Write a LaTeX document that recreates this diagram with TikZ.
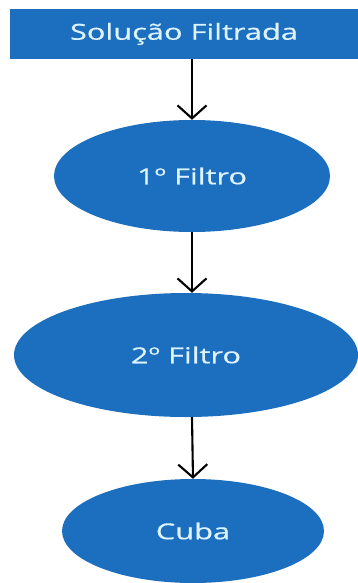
\documentclass[tikz,border=0pt]{standalone}
\usepackage{fontspec}
\usepackage{graphicx}
\setmainfont{Open Sans}
\newfontfamily\labfamily[FakeBold=0.5]{Open Sans}
\usetikzlibrary{shapes.geometric,arrows.meta}
\definecolor{boxblue}{HTML}{1C6FBE}
\definecolor{txt}{HTML}{DDF3FF}
\newcommand{\lab}[1]{\scalebox{1.4}[1]{\labfamily\fontsize{22}{24}\selectfont #1}}
\tikzset{
  flowbox/.style={fill=boxblue, draw=none, text=txt, inner sep=0pt},
  flowell/.style={ellipse, fill=boxblue, draw=none, text=txt, inner sep=0pt},
  flowarrow/.style={draw=black, line width=2.1pt, -{Straight Barb[length=13pt,width=29pt,line width=2.1pt]}}
}
\begin{document}
\begin{tikzpicture}[x=1pt,y=-1pt]
\clip (0,0) rectangle (358,583);
\fill[white] (0,0) rectangle (358,583);
\node[flowbox, minimum width=348pt, minimum height=50pt] (sol) at (184,34) {\lab{Solução Filtrada}};
\node[flowell, minimum width=276pt, minimum height=112pt] (f1) at (192,176) {\lab{1º Filtro}};
\node[flowell, minimum width=344pt, minimum height=124pt] (f2) at (186,355) {\lab{2º Filtro}};
\node[flowell, minimum width=262pt, minimum height=104pt] (cuba) at (193,531) {\lab{Cuba}};
\draw[flowarrow] (sol.south -| f1.north) -- (f1.north);
\draw[flowarrow] (f1.south) -- (f1.south |- f2.north);
\draw[flowarrow] (f1.south |- f2.south) -- (cuba.north);
\end{tikzpicture}
\end{document}
